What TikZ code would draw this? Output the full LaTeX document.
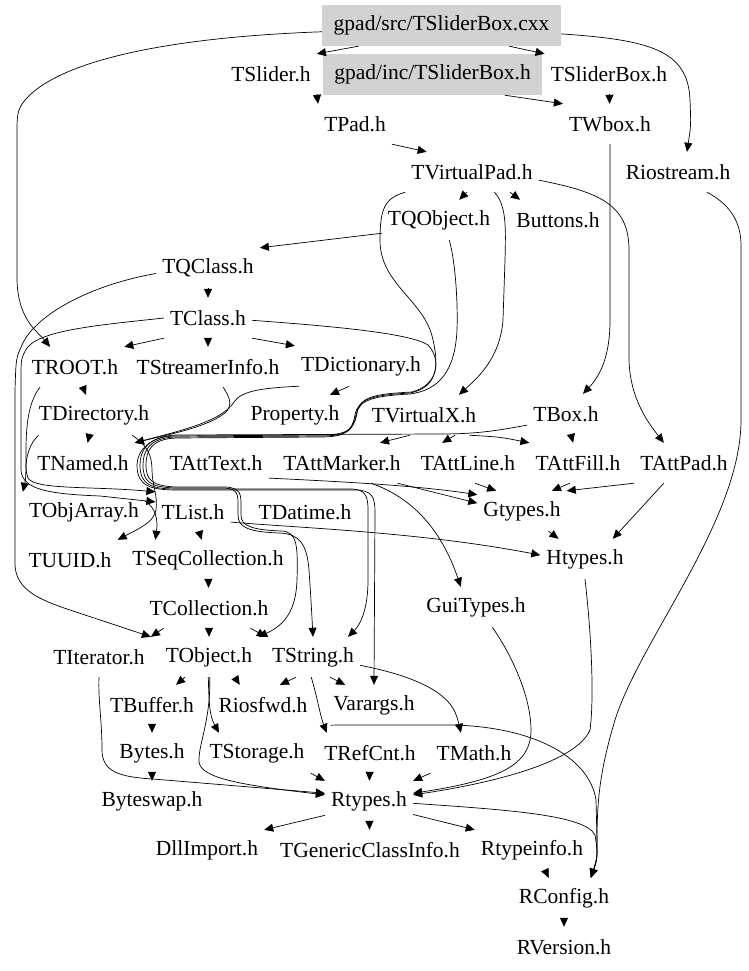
\documentclass[tikz,border=0pt]{standalone}
\usepackage{fontspec}
\setmainfont{Liberation Serif}
\usetikzlibrary{arrows.meta}
\begin{document}
\begin{tikzpicture}[x=1pt,y=-1pt,
  n/.style={inner xsep=6pt,inner ysep=0pt,minimum height=40pt,font=\fontsize{21.5}{24}\selectfont},
  gbox/.style={n,fill=gray!35,minimum height=41pt},
  e/.style={draw,line width=0.7pt,-{Triangle[length=9pt,width=8pt]}}]
\useasboundingbox (0,0) rectangle (748,971);
% nodes
\node[gbox,minimum width=239pt] (src) at (441.5,25.5) {gpad/src/TSliderBox.cxx};
\node[gbox,minimum width=219pt] (inc) at (432.5,74.5) {gpad/inc/TSliderBox.h};
\node[n] (TSlider) at (271,74) {TSlider.h};
\node[n] (TSliderBoxh) at (609,74) {TSliderBox.h};
\node[n] (TPad) at (355,124) {TPad.h};
\node[n] (TWbox) at (610,124) {TWbox.h};
\node[n] (TVirtualPad) at (472,172) {TVirtualPad.h};
\node[n] (Riostream) at (678,172) {Riostream.h};
\node[n] (TQObject) at (439,220) {TQObject.h};
\node[n] (Buttons) at (558,220) {Buttons.h};
\node[n] (TQClass) at (208,268) {TQClass.h};
\node[n] (TClass) at (208,318) {TClass.h};
\node[n] (TROOT) at (75,367) {TROOT.h};
\node[n] (TStreamerInfo) at (208,367) {TStreamerInfo.h};
\node[n] (TDictionary) at (361,366) {TDictionary.h};
\node[n] (TDirectory) at (94,415) {TDirectory.h};
\node[n] (Property) at (295,415) {Property.h};
\node[n] (TVirtualX) at (424,415) {TVirtualX.h};
\node[n] (TBox) at (566,414) {TBox.h};
\node[n] (TNamed) at (83,463) {TNamed.h};
\node[n] (TAttText) at (216,463) {TAttText.h};
\node[n] (TAttMarker) at (342,463) {TAttMarker.h};
\node[n] (TAttLine) at (468,463) {TAttLine.h};
\node[n] (TAttFill) at (578,463) {TAttFill.h};
\node[n] (TAttPad) at (684,463) {TAttPad.h};
\node[n] (TObjArray) at (84,512) {TObjArray.h};
\node[n] (TList) at (193,512) {TList.h};
\node[n] (TDatime) at (305,512) {TDatime.h};
\node[n] (Gtypes) at (522,511) {Gtypes.h};
\node[n] (TUUID) at (70,560) {TUUID.h};
\node[n] (TSeqCollection) at (208,560) {TSeqCollection.h};
\node[n] (Htypes) at (585,559) {Htypes.h};
\node[n] (TCollection) at (209,608) {TCollection.h};
\node[n] (GuiTypes) at (476,607) {GuiTypes.h};
\node[n] (TIterator) at (99,657) {TIterator.h};
\node[n] (TObject) at (209,657) {TObject.h};
\node[n] (TString) at (313,657) {TString.h};
\node[n] (TBuffer) at (152,705) {TBuffer.h};
\node[n] (Riosfwd) at (263,705) {Riosfwd.h};
\node[n] (Varargs) at (374,705) {Varargs.h};
\node[n] (Bytes) at (152,753) {Bytes.h};
\node[n] (TStorage) at (257,753) {TStorage.h};
\node[n] (TRefCnt) at (370,753) {TRefCnt.h};
\node[n] (TMath) at (474,753) {TMath.h};
\node[n] (Byteswap) at (152,801) {Byteswap.h};
\node[n] (Rtypes) at (369,801) {Rtypes.h};
\node[n] (DllImport) at (207,850) {DllImport.h};
\node[n] (TGenericClassInfo) at (370,850) {TGenericClassInfo.h};
\node[n] (Rtypeinfo) at (532,850) {Rtypeinfo.h};
\node[n] (RConfig) at (564,898) {RConfig.h};
\node[n] (RVersion) at (564,947) {RVersion.h};
% top edges
\draw[e] (src.194) -- (TSlider.north east);
\draw[e] (src.-17) -- (TSliderBoxh.north west);
\draw[e] (src.-4) .. controls (650,40) and (688,50) .. (690,100) .. controls (691,125) .. (Riostream.66);
\draw[e] (src.183) .. controls (150,38) and (55,65) .. (25,100) .. controls (17,110) and (17,115) .. (17,135) -- (17,280) .. controls (18,320) and (38,332) .. (TROOT.141);
\draw[e] (TSlider.south east) -- (TPad.north west);
\draw[e] (inc.-16) -- (TWbox.north west);
\draw[e] (TSliderBoxh) -- (TWbox);
\draw[e] (TPad.south east) -- (TVirtualPad.156);
\draw[e] (TWbox.south) -- (610,320) .. controls (610,360) and (598,378) .. (TBox.50);
\draw[e] (TVirtualPad.-105) -- (TQObject.45);
\draw[e] (TVirtualPad.-28) -- (Buttons.152);
\draw[e] (TVirtualPad.-7) .. controls (600,192) and (629,205) .. (629,250) -- (629,360) .. controls (630,400) and (650,425) .. (TAttPad.135);
\draw[e] (TVirtualPad.-42) .. controls (506,205) and (506,225) .. (505,260) -- (503,320) .. controls (500,360) and (475,380) .. (TVirtualX.30);
\draw[e] (TQObject.193) -- (TQClass.north east);
\draw[e] (TQClass) -- (TClass);
\draw[e] (TQClass.186) .. controls (90,285) and (35,315) .. (22,345) .. controls (16,358) .. (15,390) -- (15,565) .. controls (16,590) and (40,600) .. (70,610) -- (TIterator.north east);
\draw[e] (TClass) -- (TStreamerInfo);
\draw[e] (TClass.south west) -- (TROOT.north east);
\draw[e] (TClass.south east) -- (TDictionary.north west);
\draw[e] (TClass.west) .. controls (100,325) and (40,330) .. (27,348) .. controls (21,358) .. (21,380) -- (21,470) .. controls (22,490) and (50,494) .. (100,496) -- (TList.165);
\draw[e] (TROOT) -- (TDirectory);
\draw[e] (TROOT.-150) .. controls (30,400) and (26,420) .. (26,450) .. controls (26,470) and (26,478) .. (TObjArray.north west);
\draw[e] (TDirectory) -- (TNamed);
\draw[e] (TDirectory.-160) .. controls (28,445) and (23,465) .. (28,478) .. controls (35,490) and (90,486) .. (TList.north west);
\draw[e] (TStreamerInfo.-53) .. controls (230,398) and (233,405) .. (225,413) .. controls (205,428) and (170,434) .. (TNamed.north east);
\draw[e] (TDictionary.-162) .. controls (265,388) and (242,390) .. (234,402) .. controls (222,422) and (175,432) .. (TNamed.north east);
\draw[e] (TDictionary.-120) -- (Property.30);
% bundle
\draw[e] (TVirtualPad.south west) .. controls (385,198) and (380,208) .. (380,240) .. controls (380,285) and (425,300) .. (433,340) .. controls (440,370) and (435,388) .. (410,393) .. controls (375,395) and (358,398) .. (355,415) .. controls (352,432) and (345,436) .. (320,436) -- (175,437) .. controls (150,438) and (143,450) .. (143,465) .. controls (143,482) and (150,487) .. (175,488) -- (225,488) .. controls (238,489) and (238,495) .. (238,505) -- (238,515) .. controls (238,528) and (250,532) .. (280,533) .. controls (300,534) and (307,545) .. (309,570) .. controls (311,600) .. (TString.north);
\draw[e] (TQObject.-63) .. controls (455,260) and (458,300) .. (457,330) .. controls (455,370) and (440,390) .. (410,394) .. controls (375,396) and (359,399) .. (356,415) .. controls (353,431) and (346,437) .. (320,437) -- (176,438) .. controls (152,439) and (146,450) .. (146,465) .. controls (146,480) and (152,486) .. (176,487) -- (226,487) .. controls (241,488) and (241,495) .. (241,505) -- (241,515) .. controls (241,526) and (252,530) .. (282,531) .. controls (297,532) and (298,545) .. (297,580) .. controls (296,610) and (285,625) .. (TObject.north east);
\draw[e] (TClass.-3) .. controls (330,326) and (410,333) .. (428,345) .. controls (442,360) and (438,385) .. (412,392) .. controls (376,394) and (360,396) .. (357,413) .. controls (354,430) and (347,435) .. (320,435) -- (174,436) .. controls (148,437) and (140,450) .. (140,465) .. controls (140,484) and (150,489) .. (176,489) -- (350,489) .. controls (365,489) and (368,495) .. (368,510) -- (368,580) .. controls (368,610) and (360,625) .. (TString.30);
\draw[e] (TBox.196) .. controls (500,430) and (480,434) .. (440,434) -- (176,435) .. controls (151,436) and (137,450) .. (137,465) .. controls (137,486) and (150,490) .. (178,490) -- (355,490) .. controls (372,490) and (375,497) .. (375,512) -- (Varargs.north);
\draw[e] (TDirectory.-28) .. controls (147,445) and (152,455) .. (152,470) .. controls (152,485) and (158,495) .. (156,510) .. controls (154,522) and (140,528) .. (TUUID.north east);
\draw[e] (TObjArray.10) .. controls (156,508) and (158,520) .. (TSeqCollection.159);
\draw[e] (TList) -- (TSeqCollection);
\draw[e] (TList.-15) .. controls (300,528) and (420,532) .. (Htypes.175);
% attributes
\draw[e] (TBox) -- (TAttFill);
\draw[e] (TVirtualX.-125) -- (TAttMarker.28);
\draw[e] (TVirtualX.-33) -- (TAttLine.142);
\draw[e] (TVirtualX.-24) .. controls (500,437) .. (TAttFill.north west);
\draw[e] (TAttLine.-71) -- (Gtypes.142);
\draw[e] (TAttFill.-112) -- (Gtypes.34);
\draw[e] (TAttPad.south west) -- (Gtypes.north east);
\draw[e] (TAttPad.-135) -- (Htypes.36);
\draw[e] (Gtypes) -- (Htypes);
\draw[e] (TAttText.-16) .. controls (350,482) and (420,486) .. (Gtypes.160);
\draw[e] (TAttMarker.-20) -- (Gtypes.170);
\draw[e] (TAttMarker.-35) .. controls (420,500) and (445,540) .. (GuiTypes.127);
% lower
\draw[e] (TSeqCollection) -- (TCollection);
\draw[e] (TCollection.-156) -- (TIterator.north east);
\draw[e] (TCollection) -- (TObject);
\draw[e] (TCollection.-26) -- (TString.north west);
\draw[e] (TObject.-140) -- (TBuffer.40);
\draw[e] (TObject.-38) -- (Riosfwd.139);
\draw[e] (TObject.-92) .. controls (209,700) and (209,715) .. (TStorage.152);
\draw[e] (TObject.-88) .. controls (211,720) and (198,745) .. (199,762) .. controls (201,778) and (240,785) .. (Rtypes.172);
\draw[e] (TIterator.south) .. controls (98,700) and (102,720) .. (102,750) .. controls (102,772) and (120,777) .. (153,779) -- (Rtypes.170);
\draw[e] (TBuffer) -- (Bytes);
\draw[e] (Bytes) -- (Byteswap);
\draw[e] (TString.-130) -- (Riosfwd.50);
\draw[e] (TString.-50) -- (Varargs.145);
\draw[e] (TString.-95) .. controls (318,700) and (320,715) .. (TRefCnt.155);
\draw[e] (TString.-10) .. controls (410,675) and (445,690) .. (455,712) .. controls (458,720) .. (TMath.123);
\draw[e] (Varargs.-155) .. controls (335,725) and (345,725) .. (360,725) -- (455,725) .. controls (540,728) and (590,760) .. (596,800) -- (597,840) .. controls (597,860) .. (RConfig.37);
\draw[e] (Riostream.-35) .. controls (722,200) and (741,215) .. (741,245) -- (741,420) .. controls (741,520) and (640,640) .. (615,720) .. controls (600,770) and (597,800) .. (597,840) .. controls (597,860) .. (RConfig.37);
\draw[e] (GuiTypes.-51) .. controls (515,660) and (531,700) .. (531,730) .. controls (531,765) and (500,780) .. (Rtypes.10);
\draw[e] (Htypes.south) .. controls (592,640) and (594,700) .. (590,730) .. controls (575,765) and (480,785) .. (Rtypes.8);
\draw[e] (TStorage.south east) -- (Rtypes.north west);
\draw[e] (TRefCnt) -- (Rtypes);
\draw[e] (TMath.south west) -- (Rtypes.north east);
\draw[e] (Rtypes.-162) -- (DllImport.north east);
\draw[e] (Rtypes) -- (TGenericClassInfo);
\draw[e] (Rtypes.-17) -- (Rtypeinfo.north west);
\draw[e] (Rtypes.-3) .. controls (510,810) and (585,815) .. (595,835) .. controls (598,855) .. (RConfig.37);
\draw[e] (Rtypeinfo.-57) -- (RConfig.127);
\draw[e] (RConfig) -- (RVersion);
\end{tikzpicture}
\end{document}
